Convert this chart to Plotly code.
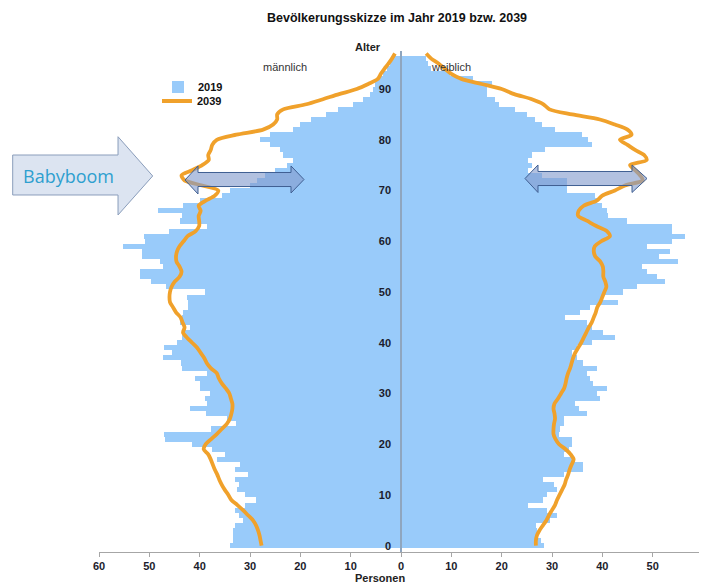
import plotly.graph_objects as go

# ---------------- data ----------------
ages = list(range(0, 97))
male_2019 = [34, 33.3, 33.3, 33.3, 33, 31.4, 32.1, 33, 31, 28.9,
             31, 32.6, 32.1, 33, 30.4, 33, 32, 36.6, 35, 37.5,
             41.6, 46.8, 47, 37.8, 32.7, 34.6, 38.8, 42, 38.6, 39,
             38, 40, 40, 41, 38.5, 43.5, 43.8, 47.3, 45.4, 47,
             44.6, 43.6, 43.3, 42, 44, 43.6, 43.3, 42.3, 42.3, 42.6,
             39, 46.6, 49.6, 51.9, 51.9, 47.3, 47.9, 51.5, 51.5, 55.3,
             50.9, 51, 46, 38.6, 44, 43.6, 48.3, 43.3, 40, 35.6,
             34, 30, 28.7, 27, 25, 22.7, 21.4, 23.4, 24, 26,
             28, 26, 21.4, 20, 17.8, 15, 12.5, 9.5, 7.5, 6.2,
             5.6, 5.2, 4.5, 3.5, 2.8, 2.2, 1.6]
female_2019 = [28.4, 27.9, 27, 27, 26.8, 29.6, 31, 29, 25.3, 28.3,
               29, 31, 30.3, 28.3, 32.3, 36.2, 36.2, 33.9, 32.3, 33.3,
               33.9, 33.9, 31.3, 31.6, 32.3, 32.3, 36.9, 35.3, 34.6, 39.6,
               38.9, 40.9, 38.2, 37.6, 36.9, 38.9, 36.2, 34.9, 33.9, 34.9,
               37.9, 42.5, 40.2, 37.9, 36.9, 32.6, 35.6, 37.6, 43.2, 40.2,
               44.2, 46.8, 52.5, 50.8, 48.8, 47.8, 55.1, 51.2, 53.5, 48.8,
               53.8, 56.5, 53.8, 53.8, 44.9, 41.2, 41, 40, 39, 38.5,
               33, 33, 32.9, 28, 25.3, 26, 25.3, 26, 28.6, 37.9,
               37.2, 35.9, 30.6, 28, 26.6, 25, 22.7, 19.4, 18.7, 17,
               17, 18, 14.4, 9.7, 6, 5.4, 5]

ages_2039 = list(range(0, 98))
male_2039 = [27.7, 27.9, 28.1, 28.4, 28.8, 29.4, 30.4, 31.4, 32.5, 33.7,
             34.3, 35, 35.6, 36.1, 36.5, 37, 37.4, 37.8, 38.3, 39.2,
             38.8, 37.7, 36.6, 35.6, 34.6, 34, 33.7, 33.5, 33.5, 33.8,
             34.1, 34.8, 35.6, 36.2, 36.6, 37.8, 38.6, 39.1, 39.8, 40.5,
             41.5, 42.5, 43.3, 43, 43.4, 43.8, 44.7, 45.3, 45.9, 46,
             45.9, 45.6, 45, 44, 43.6, 44, 44.6, 44.7, 44.5, 44,
             43.2, 42.4, 40.8, 40.1, 40.1, 40.2, 39.8, 40.2, 38.8, 37,
             36.3, 39.5, 43, 43.6, 41.5, 39.5, 38.2, 38.3, 37.8, 37.5,
             36.6, 32.7, 27.4, 25.4, 24.6, 24.6, 23.4, 18.8, 15.5, 12.3,
             8.8, 6.5, 4.6, 4, 3.3, 2.5, 1.8, 1.2]
female_2039 = [26.8, 26.8, 27, 27.5, 28.2, 28.9, 29.4, 30, 30.6, 31,
               31.5, 32, 32.5, 32.8, 33.2, 33.5, 33.9, 34.3, 33.7, 32.7,
               31.4, 30.7, 30.3, 30.3, 30.4, 30.6, 30.5, 30.3, 30.5, 31.2,
               31.8, 32.4, 32.7, 32.9, 33.2, 33.6, 33.9, 34.2, 34.6, 35.2,
               35.8, 36.3, 36.8, 37.3, 37.9, 38.3, 38.7, 39, 39.6, 40,
               40.4, 40.8, 40.6, 40.2, 40.2, 40.1, 39.6, 38.6, 38.3, 38.5,
               39.8, 41.5, 40.9, 38.8, 37, 35.2, 35.3, 36.3, 38.9, 40,
               42.5, 44.5, 48, 47.5, 46.5, 45.5, 48.8, 48.3, 46.5, 45,
               43.5, 45.8, 45, 42.5, 39.5, 34, 29.5, 28.3, 26, 22.5,
               20, 16, 12, 10, 8.7, 7.5, 6, 5]

x_tickvals = [-60, -50, -40, -30, -20, -10, 0, 10, 20, 30, 40, 50, 60]
x_ticktext = ["60", "50", "40", "30", "20", "10", "0", "10", "20", "30", "40", "50", "60"]
y_tickvals = [0, 10, 20, 30, 40, 50, 60, 70, 80, 90]

# ---------------- styling ----------------
BAR_COLOR = "#99CBFA"
LINE_COLOR = "#F0A12B"
FONT = "Liberation Sans, Arial, sans-serif"
OFF = 8                       # page body margin of the html page
W, H = 707 - OFF, 585 - OFF   # figure size so that the page fills the window
# margins given in window pixels, converted to figure pixels
ML, MR, MT, MB = 99 - OFF, 4, 51 - OFF, 33


def px2paper(px, py):
    fx, fy = px - OFF, py - OFF
    return ((fx - ML) / (W - ML - MR), (H - MB - fy) / (H - MT - MB))


def path(points):
    pts = [px2paper(x, y) for x, y in points]
    return "M " + " L ".join(f"{x:.4f},{y:.4f}" for x, y in pts) + " Z"


fig = go.Figure()
fig.add_trace(go.Bar(y=ages, x=[-v for v in male_2019], orientation="h",
                     marker=dict(color=BAR_COLOR, line=dict(width=0)),
                     name="<b>2019</b>", legend="legend", showlegend=True,
                     hoverinfo="skip"))
fig.add_trace(go.Bar(y=ages, x=female_2019, orientation="h",
                     marker=dict(color=BAR_COLOR, line=dict(width=0)),
                     name="<b>2019</b>", showlegend=False,
                     hoverinfo="skip"))
fig.add_trace(go.Scatter(y=ages_2039, x=[-v for v in male_2039], mode="lines",
                         line=dict(color=LINE_COLOR, width=3.8, shape="spline", smoothing=0.8),
                         name="<b>2039</b>", legend="legend2", showlegend=True))
fig.add_trace(go.Scatter(y=ages_2039, x=female_2039, mode="lines",
                         line=dict(color=LINE_COLOR, width=3.8, shape="spline", smoothing=0.8),
                         name="<b>2039</b>", showlegend=False))

shapes = []
# Babyboom block arrow
shapes.append(dict(type="path", xref="paper", yref="paper", layer="above",
                   path=path([(12.7, 155), (118, 155), (118, 136.7), (152.7, 176),
                              (118, 215), (118, 195), (12.7, 195)]),
                   fillcolor="#DCE4F1", line=dict(color="#8A9DBB", width=1)))
# double arrows
for pts in [
    [(185, 180), (198, 166), (198, 172.5), (291, 172.5), (291, 166), (304, 179.5),
     (291, 193), (291, 186.5), (198, 186.5), (198, 194)],
    [(525, 178.5), (538, 165), (538, 171.5), (632, 171.5), (632, 165), (647, 178.5),
     (632, 192.5), (632, 185.5), (538, 185.5), (538, 192.5)],
]:
    shapes.append(dict(type="path", xref="paper", yref="paper", layer="above",
                       path=path(pts), fillcolor="rgba(130,155,205,0.62)",
                       line=dict(color="#3F5F92", width=1)))


def ann(text, px, py, size, bold=False, color="#222222", family=FONT):
    x, y = px2paper(px, py)
    return dict(text=f"<b>{text}</b>" if bold else text, x=x, y=y, xref="paper", yref="paper",
                showarrow=False, xanchor="center", yanchor="middle",
                font=dict(size=size, color=color, family=family))


annotations = [
    ann("Alter", 368, 47, 11, bold=True),
    ann("männlich", 285, 67, 11, color="#333333"),
    ann("weiblich", 451, 67, 11, color="#333333"),
    ann("Personen", 380, 578, 11, bold=True),
    ann("Babyboom", 68, 176, 18, color="#2E9FCF", family="Open Sans, sans-serif"),
]

l1x, l1y = px2paper(158, 87)
l2x, l2y = px2paper(157, 101)
leg_common = dict(xanchor="left", yanchor="middle", bgcolor="rgba(0,0,0,0)",
                  font=dict(size=11, color="#111111", family=FONT), itemwidth=30)
fig.update_layout(
    width=W, height=H,
    margin=dict(l=ML, r=MR, t=MT, b=MB),
    paper_bgcolor="white", plot_bgcolor="white",
    barmode="overlay", bargap=0,
    title=dict(text="<b>Bevölkerungsskizze im Jahr 2019 bzw. 2039</b>",
               x=(397 - OFF) / W, xanchor="center", y=1 - (18 - OFF) / H, yanchor="middle",
               font=dict(size=12.5, color="#111111", family=FONT)),
    font=dict(family=FONT, color="#222222"),
    xaxis=dict(range=[-60, 60], tickvals=x_tickvals,
               ticktext=[f"<b>{t}</b>" for t in x_ticktext],
               showgrid=False, zeroline=False, showline=True, linecolor="#A6A6A6",
               linewidth=1, ticks="outside", ticklen=4, tickcolor="#A6A6A6",
               tickfont=dict(size=11, color="#1c1c2c", family=FONT)),
    yaxis=dict(range=[-1.25, 97.5], tickvals=y_tickvals,
               ticktext=[f"<b>{v}</b>" for v in y_tickvals],
               anchor="free", position=0.5, showgrid=False, zeroline=False,
               showline=True, linecolor="#8FA6BF", linewidth=1.5, ticks="",
               ticklabelstandoff=7,
               tickfont=dict(size=11, color="#1c1c2c", family=FONT)),
    legend=dict(x=l1x, y=l1y, **leg_common),
    legend2=dict(x=l2x, y=l2y, **leg_common),
    shapes=shapes,
    annotations=annotations,
    showlegend=True,
)

fig.write_html("out.html")
